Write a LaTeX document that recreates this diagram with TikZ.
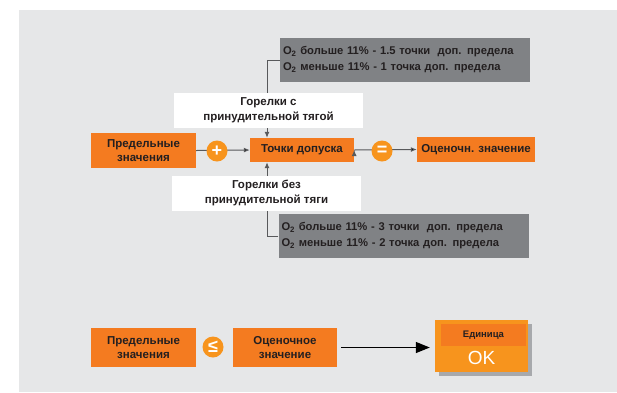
\documentclass[tikz,border=0pt]{standalone}
\usepackage{fontspec}
\setmainfont{Liberation Sans}
\usepackage{tikz}
\usetikzlibrary{arrows.meta}
\usetikzlibrary{positioning}
\usetikzlibrary{shadows}

\definecolor{bggray}{HTML}{E6E7E8}
\definecolor{darkorange}{HTML}{F47B20}
\definecolor{lightorange}{HTML}{F7941D}
\definecolor{infogray}{HTML}{808285}
\definecolor{linegray}{HTML}{58595B}
\definecolor{shadegray}{HTML}{A7A9AC}
\definecolor{txtblack}{HTML}{231F20}

\begin{document}
\begin{tikzpicture}[x=1pt,y=-1pt,text=txtblack,
				font=\bfseries\fontsize{11.5}{14.5}\selectfont,
				orange box/.style={rectangle,fill=darkorange,inner sep=2pt,align=center},
				info box/.style={rectangle,fill=infogray,align=left,inner sep=3pt,
					text width=244pt,minimum height=44pt,
					font=\bfseries\fontsize{11.2}{16}\selectfont},
				white box/.style={rectangle,fill=white,align=center,
					minimum width=189pt,minimum height=35pt},
				sign node/.style={circle,fill=lightorange,text=white,inner sep=0pt,
					minimum size=21pt,font=\bfseries\fontsize{18}{18}\selectfont},
				conn/.style={draw=linegray,line width=1pt,-{Latex[length=6pt,width=5pt]}}]
				
				\useasboundingbox (0,0) rectangle (617,392);
				\fill[bggray] (19,10) rectangle (617,392);
				
				% upper chain
				\node[orange box,minimum width=104pt,minimum height=24pt] (tochki) at (302,150) {Точки допуска};
				\node[orange box,minimum width=105pt,minimum height=35pt] (prel) at (143.5,150.5) {Предельные\\значения};
				\node[orange box,minimum width=118pt,minimum height=25pt] (ocen) at (476,149.5) {Оценочн. значение};
				\node[info box] (topinfo) at (405,60) {O\textsubscript{2} больше 11\% - 1.5 точки\ \ доп. предела\\O\textsubscript{2} меньше 11\% - 1 точка доп. предела};
				\node[info box] (botinfo) at (403.5,236) {O\textsubscript{2} больше 11\% - 3 точки\ \ доп. предела\\O\textsubscript{2} меньше 11\% - 2 точка доп. предела};
				\coordinate (upin) at ([xshift=-35pt]tochki.north);
				\coordinate (dnin) at ([xshift=-35pt]tochki.south);
				
				\path[conn]
				(prel.east) edge (tochki.west)
				(tochki.east) edge (ocen.west);
				\draw[conn] (topinfo.west) -| (upin);
				\draw[conn] (botinfo.west) -| (dnin);
				
				\node[white box] (withfan) at (268.5,110) {Горелки с\\принудительной тягой};
				\node[white box] (nofan) at (266.5,193) {Горелки без\\принудительной тяги};
				\node[sign node] (plus) at (217,151) {+};
				\node[sign node] (equal) at (382,151) {=};
				
				% lower chain
				\node[orange box,minimum width=105pt,minimum height=39pt] (prellow) at (143.5,347.5) {Предельные\\значения};
				\node[orange box,minimum width=104pt,minimum height=39pt] (ocenlow) at (285,347.5) {Оценочное\\значение};
				\node[sign node] (lesseq) at (213,347) {≤};
				\node[rectangle,fill=lightorange,minimum width=93pt,minimum height=52pt,
					drop shadow={shadow xshift=4pt,shadow yshift=-4pt,fill=shadegray,opacity=1}] (okbox) at (481.5,346) {};
				\node[rectangle,fill=darkorange,minimum width=85pt,minimum height=22pt,
					font=\bfseries\fontsize{9.5}{10}\selectfont] (unit) at (483.5,335) {Единица};
				\node[text=white,font=\fontsize{19}{19}\selectfont] (ok) at (481.5,358) {OK};
				\draw[black,line width=1.3pt,-{Triangle[length=14pt,width=11pt]},
					shorten <=4pt,shorten >=5pt] (ocenlow.east) -- (ocenlow.east -| okbox.west);
			\end{tikzpicture}
\end{document}
